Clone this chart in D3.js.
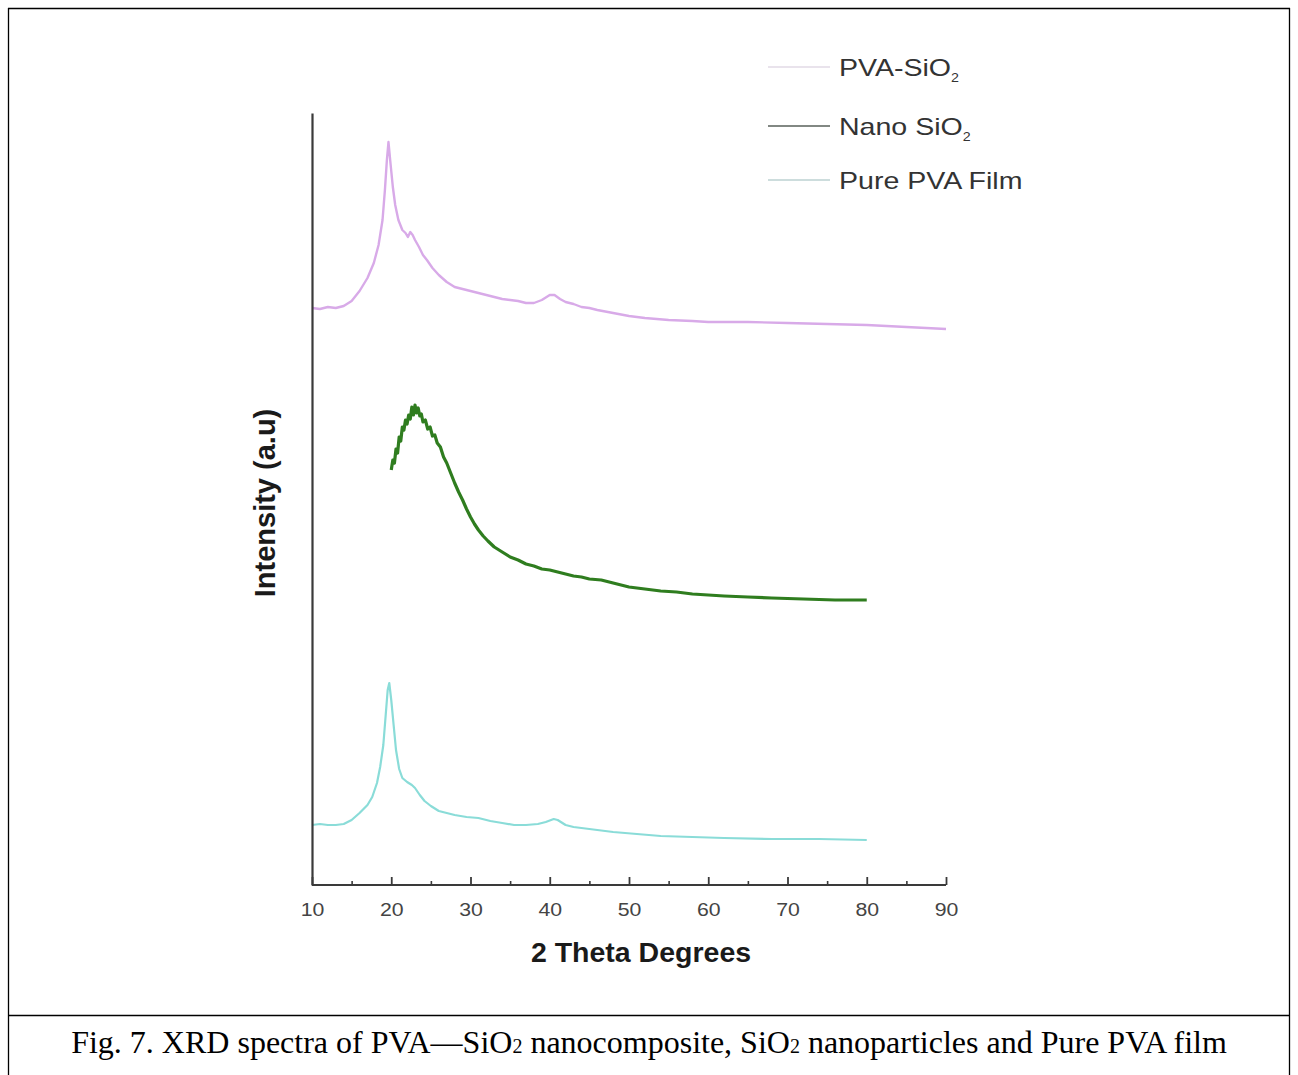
<!DOCTYPE html>
<html>
<head>
<meta charset="utf-8">
<script src="https://cdn.jsdelivr.net/npm/d3@7/dist/d3.min.js"></script>
<style>
  html, body { margin: 0; padding: 0; background: #fff; }
  svg { display: block; }
</style>
</head>
<body>
<svg id="chart" width="1298" height="1075"></svg>
<script>
// ---- data ----
const seriesNames = ["PVA-SiO", "Nano SiO", "Pure PVA Film"];
const seriesSubs = ["2", "2", ""];
const xTicks = [10, 20, 30, 40, 50, 60, 70, 80, 90];
const xMinorTicks = [15, 25, 35, 45, 55, 65, 75, 85];

// [2theta, intensity (a.u., stacked offsets as in the figure)]
const pvaSio2 = [[10,577],[11,576],[12,578],[13,577],[14,579],[15,584],[16,594],[17,607],[17.8,622],[18.4,640],[18.9,665],[19.2,695],[19.45,725],[19.65,743],[19.9,722],[20.2,698],[20.5,680],[20.9,665],[21.4,655],[21.8,652],[22.1,648],[22.4,653],[22.7,650],[23.0,645],[23.5,638],[24.0,630],[24.5,625],[25.2,617],[26.0,610],[27.0,603],[28.0,598],[29.0,596],[30.0,594],[31.0,592],[32.0,590],[33.0,588],[34.0,586],[35.0,585],[36.0,584],[37.0,582],[38.0,582],[39.0,585],[40.0,590],[40.6,590],[41.3,586],[42.0,583],[43.0,581],[44.0,578],[45.0,577],[46.0,575],[48.0,572],[50.0,569],[52.0,567],[55.0,565],[58.0,564],[60.0,563],[65.0,563],[70.0,562],[75.0,561],[80.0,560],[85.0,558],[90.0,556]];

const nanoSio2 = [[20.0,415],[20.2,425],[20.4,422],[20.6,436],[20.8,432],[21.0,448],[21.2,444],[21.4,458],[21.6,455],[21.8,465],[22.0,461],[22.2,470],[22.4,466],[22.6,478],[22.8,470],[23.0,480],[23.2,472],[23.4,477],[23.6,469],[23.8,471],[24.0,463],[24.3,465],[24.6,456],[24.9,458],[25.2,449],[25.5,450],[25.8,442],[26.2,438],[26.6,428],[27.0,422],[27.5,412],[28.0,402],[28.5,393],[29.0,385],[29.5,376],[30.0,368],[30.5,361],[31.0,355],[31.6,349],[32.2,344],[33.0,338],[34.0,333],[35.0,328],[36.0,325],[37.0,321],[38.0,319],[39.0,316],[40.0,315],[41.0,313],[42.0,311],[43.0,309],[44.0,308],[45.0,306],[46.5,305],[48.0,302],[50.0,298],[52.0,296],[54.0,294],[56.0,293],[58.0,291],[60.0,290],[62.0,289],[65.0,288],[68.0,287],[72.0,286],[76.0,285],[80.0,285]];

const purePva = [[10,60],[11,61],[12,60],[13,60],[14,61],[15,65],[16,72],[17,80],[17.6,88],[18.2,102],[18.6,118],[19.0,140],[19.3,170],[19.55,195],[19.75,202],[20.0,185],[20.3,160],[20.6,135],[21.0,116],[21.4,107],[22.0,103],[22.6,100],[23.0,97],[23.6,90],[24.2,84],[25.0,79],[26.0,74],[27.0,72],[28.0,70],[29.5,68],[31.0,67],[32.5,64],[34.0,62],[35.5,60],[37.0,60],[38.5,61],[39.5,63],[40.5,66],[41.0,65],[42.0,60],[43.0,58],[45.0,56],[48.0,53],[51.0,51],[54.0,49],[58.0,48],[62.0,47],[68.0,46],[74.0,46],[80.0,45]];

const seriesData = [pvaSio2, nanoSio2, purePva];
const seriesColors = ["#d8aae8", "#2f7d1f", "#8adcd8"];
const seriesWidths = [2.4, 3.2, 2.2];
const legendLineColors = ["#e2dae6", "#58605a", "#bcd2d2"];
const captionText = "Fig. 7. XRD spectra of PVA\u2014SiO";

// ---- drawing ----
const svg = d3.select("#chart");
const W = 1298, H = 1075;

// frame
const frame = svg.append("g").attr("stroke", "#000").attr("stroke-width", 1.3);
frame.append("line").attr("x1", 8).attr("x2", 1290).attr("y1", 8.5).attr("y2", 8.5);
frame.append("line").attr("x1", 8.5).attr("x2", 8.5).attr("y1", 8).attr("y2", H);
frame.append("line").attr("x1", 1289.5).attr("x2", 1289.5).attr("y1", 8).attr("y2", H);
frame.append("line").attr("x1", 8).attr("x2", 1290).attr("y1", 1015.5).attr("y2", 1015.5);

const x = d3.scaleLinear().domain([10, 90]).range([312, 946]);
const y = d3.scaleLinear().domain([0, 772]).range([885, 113]);

const line = d3.line().x(d => x(d[0])).y(d => y(d[1])).curve(d3.curveLinear);

// series
const plot = svg.append("g");
seriesData.forEach((data, i) => {
  plot.append("path")
    .datum(data)
    .attr("fill", "none")
    .attr("stroke", seriesColors[i])
    .attr("stroke-width", seriesWidths[i])
    .attr("stroke-linejoin", "round")
    .attr("d", line);
});

// axes
const axisColor = "#3a3a3a";
const xAxis = svg.append("g").attr("transform", `translate(0,${y(0)})`)
  .call(d3.axisBottom(x).tickValues(xTicks).tickSize(-8).tickPadding(18).tickFormat(d3.format("d")));
xAxis.select(".domain").attr("stroke", axisColor).attr("stroke-width", 2.2).attr("d", `M${x(10)},0H${x(90)}`);
xAxis.selectAll(".tick line").attr("stroke", axisColor).attr("stroke-width", 1.8);
xAxis.selectAll(".tick text")
  .attr("fill", "#444")
  .style("font-family", "'Liberation Sans', Arial, sans-serif")
  .style("font-size", "19px")
  .attr("transform", "scale(1.12,1)");

const xMinor = svg.append("g").attr("transform", `translate(0,${y(0)})`)
  .call(d3.axisBottom(x).tickValues(xMinorTicks).tickSize(-4).tickFormat(""));
xMinor.select(".domain").remove();
xMinor.selectAll(".tick line").attr("stroke", axisColor).attr("stroke-width", 1.6);

const yAxis = svg.append("g").attr("transform", `translate(${x(10)},0)`)
  .call(d3.axisLeft(y).tickValues([]).tickSize(0));
yAxis.select(".domain").attr("stroke", axisColor).attr("stroke-width", 2.2);

// axis titles
svg.append("text")
  .attr("x", 641).attr("y", 962)
  .attr("text-anchor", "middle")
  .style("font-family", "'Liberation Sans', Arial, sans-serif")
  .style("font-weight", "bold").style("font-size", "28.5px")
  .attr("fill", "#1a1a1a")
  .text("2 Theta Degrees");

svg.append("text")
  .attr("transform", "translate(275,503) rotate(-90)")
  .attr("text-anchor", "middle")
  .style("font-family", "'Liberation Sans', Arial, sans-serif")
  .style("font-weight", "bold").style("font-size", "29px")
  .attr("fill", "#1a1a1a")
  .text("Intensity (a.u)");

// legend
const legendY = [67, 126, 180];
const legend = svg.append("g");
seriesNames.forEach((name, i) => {
  legend.append("line")
    .attr("x1", 768).attr("x2", 830)
    .attr("y1", legendY[i]).attr("y2", legendY[i])
    .attr("stroke", legendLineColors[i]).attr("stroke-width", 1.6);
  const t = legend.append("text")
    .attr("transform", `translate(839,${legendY[i] + 9}) scale(1.19,1)`)
    .style("font-family", "'Liberation Sans', Arial, sans-serif")
    .style("font-size", "24px")
    .attr("fill", "#333");
  t.append("tspan").text(name);
  if (seriesSubs[i]) {
    t.append("tspan").attr("dy", 6).style("font-size", "12px").text(seriesSubs[i]);
  }
});

// caption
const cap = svg.append("text")
  .attr("x", 649).attr("y", 1053)
  .attr("text-anchor", "middle")
  .style("font-family", "'Liberation Serif', 'Times New Roman', serif")
  .style("font-size", "32px")
  .attr("fill", "#000");
cap.append("tspan").text(captionText);
cap.append("tspan").style("font-size", "20px").text("2");
cap.append("tspan").text(" nanocomposite, SiO");
cap.append("tspan").style("font-size", "20px").text("2");
cap.append("tspan").text(" nanoparticles and Pure PVA film");
</script>
</body>
</html>
